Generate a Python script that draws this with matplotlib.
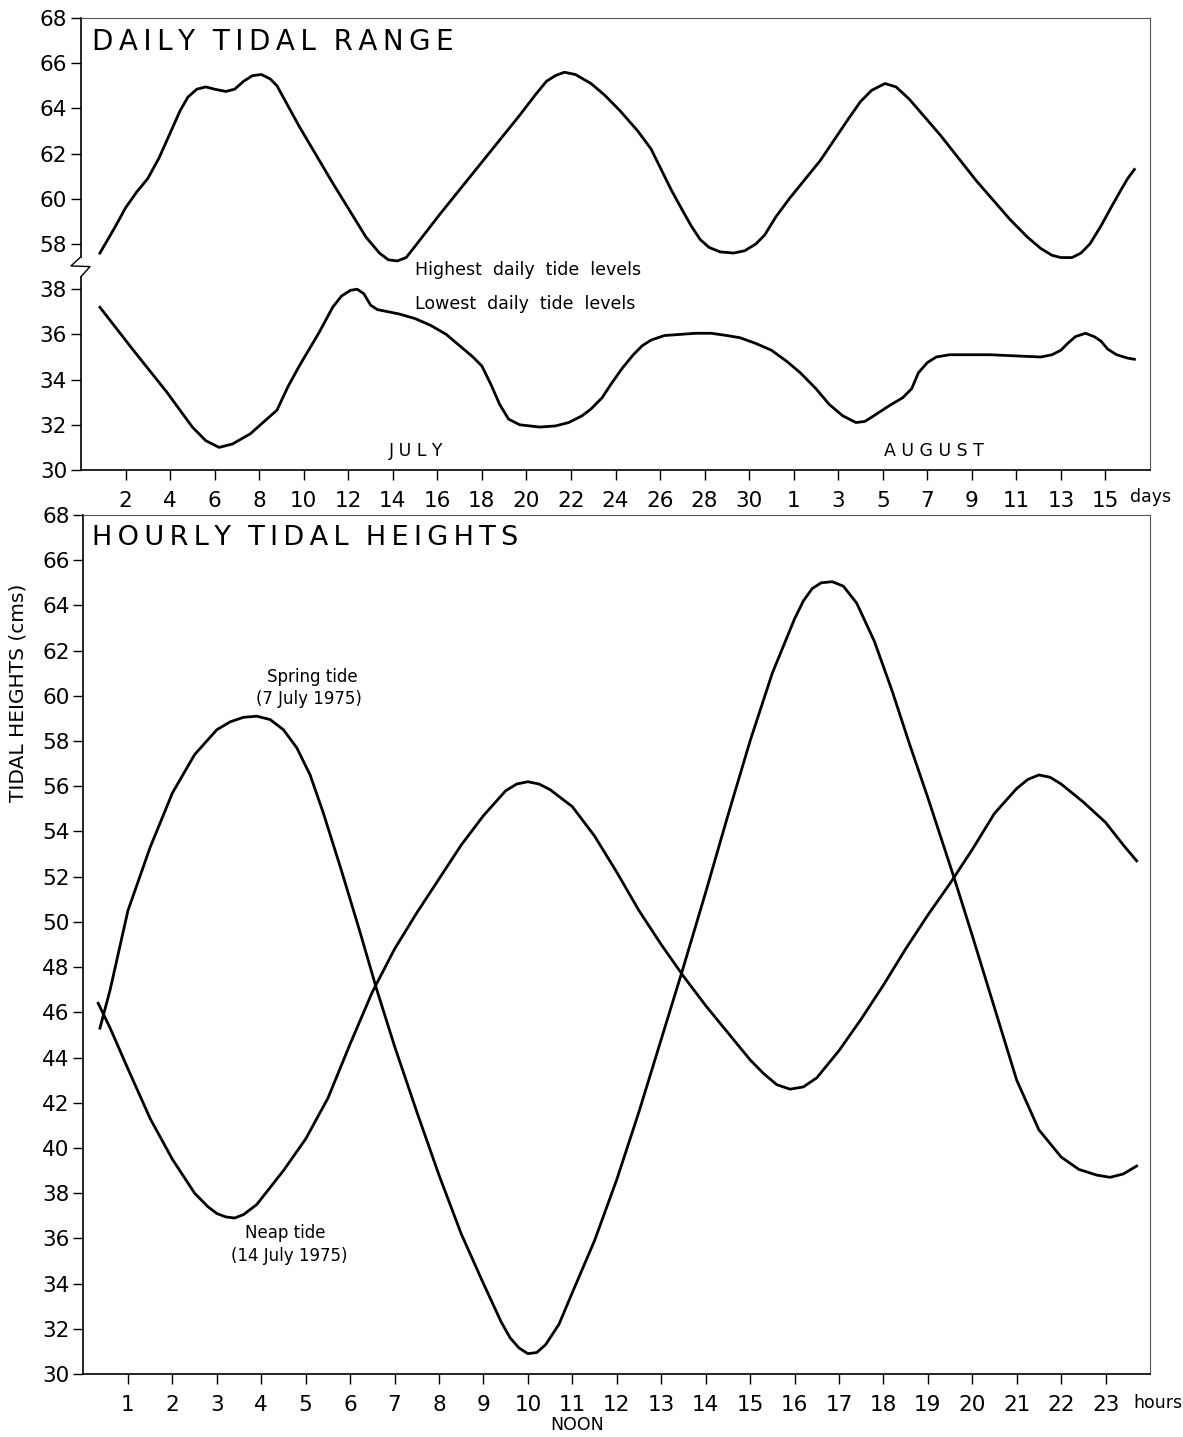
import matplotlib
matplotlib.use("Agg")
import matplotlib.pyplot as plt
from matplotlib.transforms import blended_transform_factory

plt.rcParams['font.family'] = ['DejaVu Sans']

# ---- daily tidal range (day 1..31 = July, 32.. = August) ----
day_hi = [0.85, 1.5, 2.0, 2.5, 3.0, 3.5, 4.0, 4.45, 4.8, 5.2, 5.6, 6.0, 6.5, 6.9, 7.3,
          7.7, 8.1, 8.5, 8.8, 9.3, 9.8, 11.3, 12.8, 13.4, 13.8, 14.2, 14.6, 15.0, 16.1,
          17.9, 19.7, 20.4, 20.9, 21.3, 21.7, 22.2, 22.9, 23.5, 24.2, 25.0, 25.6, 26.1,
          26.5, 27.0, 27.4, 27.8, 28.2, 28.7, 29.3, 29.8, 30.3, 30.7, 31.2, 31.8, 33.2,
          34.5, 35.0, 35.5, 36.1, 36.6, 37.2, 38.6, 40.2, 41.7, 42.5, 43.1, 43.6, 44.0,
          44.5, 44.9, 45.3, 45.8, 46.3, 46.7, 47.0, 47.3]
level_hi = [57.6, 58.7, 59.6, 60.3, 60.9, 61.8, 62.9, 63.9, 64.5, 64.85, 64.95, 64.85, 64.75, 64.85, 65.2,
            65.45, 65.5, 65.3, 65.0, 64.1, 63.2, 60.7, 58.3, 57.6, 57.3, 57.25, 57.4, 57.9, 59.3,
            61.5, 63.7, 64.6, 65.2, 65.45, 65.6, 65.5, 65.1, 64.6, 63.9, 63.0, 62.2, 61.2,
            60.4, 59.5, 58.8, 58.2, 57.85, 57.65, 57.6, 57.7, 58.0, 58.4, 59.2, 60.0, 61.7,
            63.6, 64.3, 64.8, 65.1, 64.95, 64.4, 62.8, 60.8, 59.1, 58.3, 57.8, 57.5, 57.4,
            57.4, 57.6, 58.0, 58.8, 59.7, 60.4, 60.9, 61.3]

day_lo = [0.85, 2.35, 3.85, 5.0, 5.6, 6.2, 6.8, 7.6, 8.8, 9.3, 9.8, 10.7, 11.3, 11.7, 12.1,
          12.4, 12.7, 13.0, 13.3, 14.3, 15.0, 15.7, 16.4, 17.0, 17.6, 18.0, 18.4, 18.8,
          19.2, 19.7, 20.6, 21.3, 21.9, 22.5, 22.9, 23.4, 23.8, 24.3, 24.8, 25.2, 25.6,
          26.2, 26.9, 27.6, 28.3, 29.0, 29.6, 30.3, 31.0, 31.7, 32.3, 33.0, 33.6, 34.2,
          34.8, 35.2, 35.6, 36.3, 36.9, 37.3, 37.6, 38.0, 38.4, 39.0, 39.5, 40.8, 43.1,
          43.6, 44.0, 44.3, 44.65, 45.1, 45.5, 45.8, 46.1, 46.5, 47.0, 47.3]
level_lo = [37.2, 35.3, 33.45, 31.9, 31.3, 31.0, 31.15, 31.6, 32.65, 33.7, 34.6, 36.1, 37.2, 37.7, 37.95,
            38.0, 37.8, 37.3, 37.1, 36.9, 36.7, 36.4, 36.0, 35.5, 35.0, 34.6, 33.8, 32.9,
            32.25, 32.0, 31.9, 31.95, 32.1, 32.4, 32.7, 33.2, 33.8, 34.5, 35.1, 35.5, 35.75,
            35.95, 36.0, 36.05, 36.05, 35.95, 35.85, 35.6, 35.3, 34.8, 34.3, 33.6, 32.9, 32.4,
            32.1, 32.15, 32.4, 32.85, 33.2, 33.6, 34.3, 34.75, 35.0, 35.1, 35.1, 35.1, 35.0,
            35.1, 35.3, 35.6, 35.9, 36.05, 35.9, 35.7, 35.35, 35.1, 34.95, 34.9]

day_ticks = [2, 4, 6, 8, 10, 12, 14, 16, 18, 20, 22, 24, 26, 28, 30,
             32, 34, 36, 38, 40, 42, 44, 46]
day_tick_labels = ['2', '4', '6', '8', '10', '12', '14', '16', '18', '20', '22', '24', '26',
                   '28', '30', '1', '3', '5', '7', '9', '11', '13', '15']
range_ytick_labels = ['30', '32', '34', '36', '38', '58', '60', '62', '64', '66', '68']
BREAK_SHIFT = 18  # 58 cm is drawn where 40 would be

# ---- hourly tidal heights ----
hour_spring = [0.37, 0.6, 1.0, 1.5, 2.0, 2.5, 3.0, 3.3, 3.6, 3.9, 4.2, 4.5, 4.8, 5.1, 5.4,
               5.8, 6.2, 6.6, 7.0, 7.5, 8.0, 8.5, 9.0, 9.4, 9.6, 9.8, 10.0, 10.2, 10.4,
               10.7, 11.0, 11.5, 12.0, 12.5, 13.0, 13.5, 14.0, 14.5, 15.0, 15.5, 16.0, 16.2,
               16.4, 16.6, 16.85, 17.1, 17.4, 17.8, 18.2, 18.6, 19.0, 19.6, 20.0, 20.5, 21.0,
               21.5, 22.0, 22.4, 22.8, 23.1, 23.4, 23.7]
height_spring = [45.3, 47.0, 50.5, 53.3, 55.7, 57.4, 58.5, 58.85, 59.05, 59.1, 58.95, 58.5, 57.7, 56.5, 54.8,
                 52.3, 49.7, 47.0, 44.5, 41.6, 38.8, 36.2, 34.0, 32.3, 31.6, 31.15, 30.9, 30.95, 31.3,
                 32.2, 33.6, 35.9, 38.6, 41.6, 44.8, 48.0, 51.3, 54.7, 58.0, 61.0, 63.4, 64.2,
                 64.75, 65.0, 65.05, 64.85, 64.1, 62.4, 60.2, 57.8, 55.5, 51.9, 49.4, 46.2, 43.0,
                 40.8, 39.6, 39.05, 38.8, 38.7, 38.85, 39.2]

hour_neap = [0.33, 0.6, 1.0, 1.5, 2.0, 2.5, 2.8, 3.0, 3.2, 3.4, 3.6, 3.9, 4.5, 5.0, 5.5,
             6.0, 6.5, 7.0, 7.5, 8.0, 8.5, 9.0, 9.5, 9.75, 10.0, 10.25, 10.5, 11.0, 11.5,
             12.0, 12.5, 13.0, 13.5, 14.0, 14.5, 15.0, 15.3, 15.6, 15.9, 16.2, 16.5, 17.0,
             17.5, 18.0, 18.5, 19.0, 19.5, 20.0, 20.5, 21.0, 21.25, 21.5, 21.75, 22.0, 22.5,
             23.0, 23.4, 23.7]
height_neap = [46.4, 45.3, 43.5, 41.3, 39.5, 38.0, 37.4, 37.1, 36.95, 36.9, 37.05, 37.5, 39.0, 40.4, 42.2,
               44.6, 46.9, 48.8, 50.4, 51.9, 53.4, 54.7, 55.8, 56.1, 56.2, 56.1, 55.85, 55.1, 53.8,
               52.2, 50.5, 49.0, 47.6, 46.3, 45.1, 43.9, 43.3, 42.8, 42.6, 42.7, 43.1, 44.3,
               45.7, 47.2, 48.8, 50.3, 51.7, 53.2, 54.8, 55.9, 56.3, 56.5, 56.4, 56.1, 55.3,
               54.4, 53.4, 52.7]

hour_ticks = list(range(1, 24))

W, H = 1183, 1437
fig = plt.figure(figsize=(W / 100, H / 100), dpi=100)


def fx(px):
    return px / W


def fy(py):
    return 1 - py / H


def spaced(title):
    # the printed headings are letter-spaced
    return '  '.join('\u2009'.join(word) for word in title.split())


def style_axes(ax):
    for side in ('top', 'right'):
        ax.spines[side].set_linewidth(0.8)
        ax.spines[side].set_color('#555555')
    ax.spines['bottom'].set_linewidth(1.2)
    ax.spines['left'].set_linewidth(1.2)
    ax.tick_params(direction='out', length=7, width=1.0, labelsize=15.5, pad=3)


# ---------------- top panel ----------------
ax1 = fig.add_axes([fx(81), fy(470), fx(1150 - 81), (470 - 18) / H])
style_axes(ax1)
ax1.plot(day_hi, [v - BREAK_SHIFT for v in level_hi], color='black', lw=2.0)
ax1.plot(day_lo, level_lo, color='black', lw=2.0)
ax1.set_xlim(0, 48)
ax1.set_ylim(30, 50)
ax1.set_yticks(range(30, 51, 2))
ax1.set_yticklabels(range_ytick_labels)
ax1.set_xticks(day_ticks)
ax1.set_xticklabels(day_tick_labels)
ax1.tick_params(axis='x', pad=8)

# broken left spine with zigzag
ax1.spines['left'].set_visible(False)
tr = blended_transform_factory(ax1.transAxes, ax1.transData)
dx = 10 / (1150 - 81)
ax1.plot([0, 0], [39.44, 50], color='black', lw=1.2, transform=tr, clip_on=False)
ax1.plot([0, 0], [30, 38.55], color='black', lw=1.2, transform=tr, clip_on=False)
ax1.plot([0, -dx, dx * 0.9, 0], [39.44, 39.03, 39.0, 38.55], color='black', lw=1.0,
         transform=tr, clip_on=False)

ax1.text(15.0, 38.85, 'Highest  daily  tide  levels', fontsize=12.5, va='center', ha='left')
ax1.text(15.0, 37.35, 'Lowest  daily  tide  levels', fontsize=12.5, va='center', ha='left')
ax1.text(15.05, 30.84, 'J U L Y', fontsize=12.5, ha='center', va='center')
ax1.text(38.3, 30.84, 'A U G U S T', fontsize=12.5, ha='center', va='center')
fig.text(fx(92), fy(42), spaced('DAILY TIDAL RANGE'), fontsize=20, va='center', ha='left')
fig.text(fx(1130), fy(497), 'days', fontsize=12.5, va='center', ha='left')

# ---------------- bottom panel ----------------
ax2 = fig.add_axes([fx(83.5), fy(1374), fx(1150 - 83.5), (1374 - 515) / H])
style_axes(ax2)
ax2.plot(hour_spring, height_spring, color='black', lw=2.0)
ax2.plot(hour_neap, height_neap, color='black', lw=2.0)
ax2.set_xlim(0, 24)
ax2.set_ylim(30, 68)
ax2.set_yticks(range(30, 69, 2))
ax2.set_xticks(hour_ticks)
ax2.tick_params(axis='x', pad=8)

ax2.text(5.16, 60.84, 'Spring tide', fontsize=12, ha='center', va='center')
ax2.text(5.07, 59.87, '(7 July 1975)', fontsize=12, ha='center', va='center')
ax2.text(4.53, 36.24, 'Neap tide', fontsize=12, ha='center', va='center')
ax2.text(4.64, 35.22, '(14 July 1975)', fontsize=12, ha='center', va='center')
fig.text(fx(92), fy(538), spaced('HOURLY TIDAL HEIGHTS'), fontsize=19.5, va='center', ha='left')
fig.text(fx(1133), fy(1403), 'hours', fontsize=12.5, va='center', ha='left')
fig.text(fx(577), fy(1425), 'NOON', fontsize=12.5, va='center', ha='center')
fig.text(fx(18), fy(693), 'TIDAL HEIGHTS (cms)', fontsize=14.5, rotation=90,
         va='center', ha='center')

fig.savefig('out.png', dpi=100)
